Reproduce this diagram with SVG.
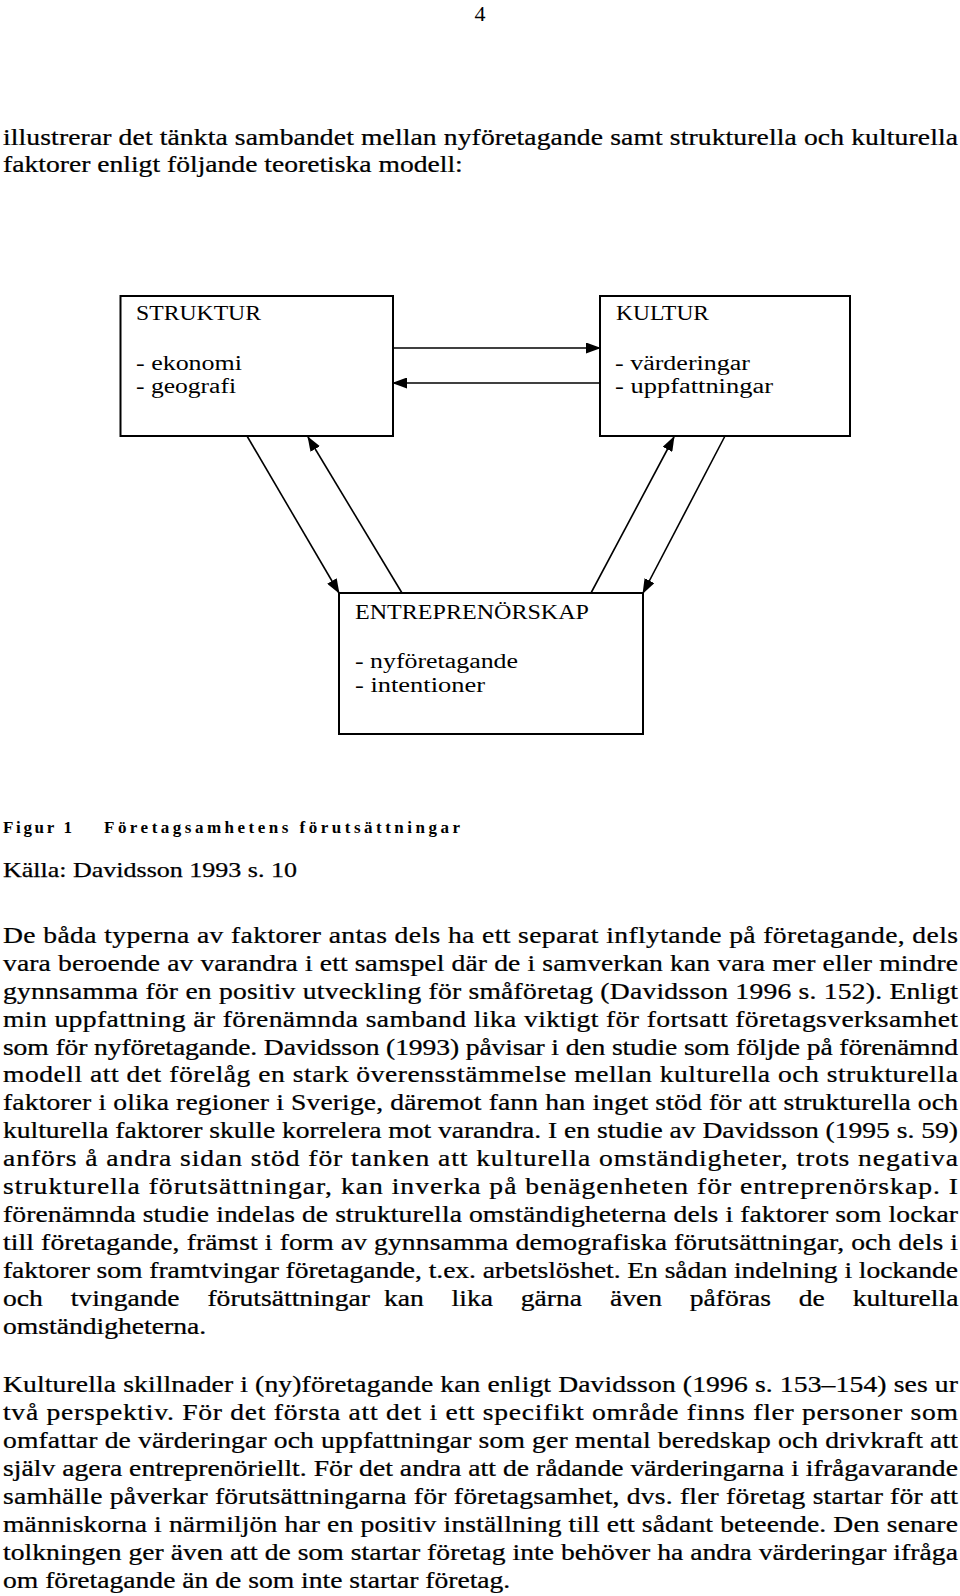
<svg xmlns="http://www.w3.org/2000/svg" width="960" height="1596" viewBox="0 0 960 1596">
<style>
.t{font-family:"Liberation Serif","Times New Roman",serif;fill:#000}
.b{font-size:24px;stroke:#000;stroke-width:0.25}
.lbl{font-size:20px}
.cap{font-size:17px;font-weight:bold}
.box{fill:#fff;stroke:#000;stroke-width:2}
.con{stroke:#000;stroke-width:1.6;fill:none;marker-end:url(#ah)}
</style>
<defs>
<marker id="ah" markerUnits="userSpaceOnUse" markerWidth="15" markerHeight="11" refX="14" refY="5.5" orient="auto">
<path d="M0,0 L15,5.5 L0,11 z" fill="#000"/>
</marker>
</defs>
<rect width="960" height="1596" fill="#fff"/>
<text class="t" x="480" y="21" font-size="22" text-anchor="middle">4</text>

<g id="body-top" class="t b" transform="scale(1.15,1)">
<text x="2.61" y="145" textLength="830.4" lengthAdjust="spacing">illustrerar det tänkta sambandet mellan nyföretagande samt strukturella och kulturella</text>
<text x="2.61" y="172">faktorer enligt följande teoretiska modell:</text>
</g>

<g id="connectors">
<line class="con" x1="393" y1="348" x2="600" y2="348"/>
<line class="con" x1="600" y1="383" x2="393" y2="383"/>
<line class="con" x1="247" y1="436" x2="339" y2="593"/>
<line class="con" x1="402" y1="593" x2="308" y2="437"/>
<line class="con" x1="591" y1="593" x2="674" y2="437"/>
<line class="con" x1="725" y1="436" x2="643" y2="593"/>
</g>

<g id="struktur">
<rect class="box" x="120.5" y="296" width="272.5" height="140"/>
<text class="t lbl" x="136" y="320" textLength="125" lengthAdjust="spacingAndGlyphs">STRUKTUR</text>
<text class="t lbl" x="136" y="370" textLength="106" lengthAdjust="spacingAndGlyphs">- ekonomi</text>
<text class="t lbl" x="136" y="393" textLength="100" lengthAdjust="spacingAndGlyphs">- geografi</text>
</g>

<g id="kultur">
<rect class="box" x="600" y="296" width="250" height="140"/>
<text class="t lbl" x="616" y="320" textLength="93" lengthAdjust="spacingAndGlyphs">KULTUR</text>
<text class="t lbl" x="615" y="370" textLength="135" lengthAdjust="spacingAndGlyphs">- värderingar</text>
<text class="t lbl" x="615" y="393" textLength="158" lengthAdjust="spacingAndGlyphs">- uppfattningar</text>
</g>

<g id="entreprenorskap">
<rect class="box" x="339" y="593" width="304" height="141"/>
<text class="t lbl" x="355" y="619" textLength="234" lengthAdjust="spacingAndGlyphs">ENTREPRENÖRSKAP</text>
<text class="t lbl" x="355" y="668" textLength="163" lengthAdjust="spacingAndGlyphs">- nyföretagande</text>
<text class="t lbl" x="355" y="692" textLength="130" lengthAdjust="spacingAndGlyphs">- intentioner</text>
</g>

<g id="caption">
<text class="t cap" x="3" y="833" textLength="69" lengthAdjust="spacing">Figur 1</text>
<text class="t cap" x="104" y="833" textLength="356" lengthAdjust="spacing">Företagsamhetens förutsättningar</text>
<text class="t" x="3" y="877" font-size="22" stroke="#000" stroke-width="0.25" textLength="294" lengthAdjust="spacingAndGlyphs">Källa: Davidsson 1993 s. 10</text>
</g>

<g id="body" class="t b" transform="scale(1.15,1)">
<text x="2.61" y="943" textLength="830.4" lengthAdjust="spacing">De båda typerna av faktorer antas dels ha ett separat inflytande på företagande, dels</text>
<text x="2.61" y="970.9" textLength="830.4" lengthAdjust="spacing">vara beroende av varandra i ett samspel där de i samverkan kan vara mer eller mindre</text>
<text x="2.61" y="998.8" textLength="830.4" lengthAdjust="spacing">gynnsamma för en positiv utveckling för småföretag (Davidsson 1996 s. 152). Enligt</text>
<text x="2.61" y="1026.7" textLength="830.4" lengthAdjust="spacing">min uppfattning är förenämnda samband lika viktigt för fortsatt företagsverksamhet</text>
<text x="2.61" y="1054.6" textLength="830.4" lengthAdjust="spacing">som för nyföretagande. Davidsson (1993) påvisar i den studie som följde på förenämnd</text>
<text x="2.61" y="1082.5" textLength="830.4" lengthAdjust="spacing">modell att det förelåg en stark överensstämmelse mellan kulturella och strukturella</text>
<text x="2.61" y="1110.4" textLength="830.4" lengthAdjust="spacing">faktorer i olika regioner i Sverige, däremot fann han inget stöd för att strukturella och</text>
<text x="2.61" y="1138.3" textLength="830.4" lengthAdjust="spacing">kulturella faktorer skulle korrelera mot varandra. I en studie av Davidsson (1995 s. 59)</text>
<text x="2.61" y="1166.2" textLength="830.4" lengthAdjust="spacing">anförs å andra sidan stöd för tanken att kulturella omständigheter, trots negativa</text>
<text x="2.61" y="1194.1" textLength="830.4" lengthAdjust="spacing">strukturella förutsättningar, kan inverka på benägenheten för entreprenörskap. I</text>
<text x="2.61" y="1222" textLength="830.4" lengthAdjust="spacing">förenämnda studie indelas de strukturella omständigheterna dels i faktorer som lockar</text>
<text x="2.61" y="1249.9" textLength="830.4" lengthAdjust="spacing">till företagande, främst i form av gynnsamma demografiska förutsättningar, och dels i</text>
<text x="2.61" y="1277.8" textLength="830.4" lengthAdjust="spacing">faktorer som framtvingar företagande, t.ex. arbetslöshet. En sådan indelning i lockande</text>
<text y="1305.7"><tspan x="2.61">och</tspan> <tspan x="61.48">tvingande</tspan> <tspan x="180.35">förutsättningar</tspan> <tspan x="333.83">kan</tspan> <tspan x="392.7">lika</tspan> <tspan x="452.87">gärna</tspan> <tspan x="530.35">även</tspan> <tspan x="599.83">påföras</tspan> <tspan x="694.61">de</tspan> <tspan x="741.48">kulturella</tspan></text>
<text x="2.61" y="1333.6">omständigheterna.</text>

<text x="2.61" y="1391.7" textLength="830.4" lengthAdjust="spacing">Kulturella skillnader i (ny)företagande kan enligt Davidsson (1996 s. 153–154) ses ur</text>
<text x="2.61" y="1419.7" textLength="830.4" lengthAdjust="spacing">två perspektiv. För det första att det i ett specifikt område finns fler personer som</text>
<text x="2.61" y="1447.7" textLength="830.4" lengthAdjust="spacing">omfattar de värderingar och uppfattningar som ger mental beredskap och drivkraft att</text>
<text x="2.61" y="1475.7" textLength="830.4" lengthAdjust="spacing">själv agera entreprenöriellt. För det andra att de rådande värderingarna i ifrågavarande</text>
<text x="2.61" y="1503.7" textLength="830.4" lengthAdjust="spacing">samhälle påverkar förutsättningarna för företagsamhet, dvs. fler företag startar för att</text>
<text x="2.61" y="1531.7" textLength="830.4" lengthAdjust="spacing">människorna i närmiljön har en positiv inställning till ett sådant beteende. Den senare</text>
<text x="2.61" y="1559.7" textLength="830.4" lengthAdjust="spacing">tolkningen ger även att de som startar företag inte behöver ha andra värderingar ifråga</text>
<text x="2.61" y="1587.7">om företagande än de som inte startar företag.</text>
</g>
</svg>
